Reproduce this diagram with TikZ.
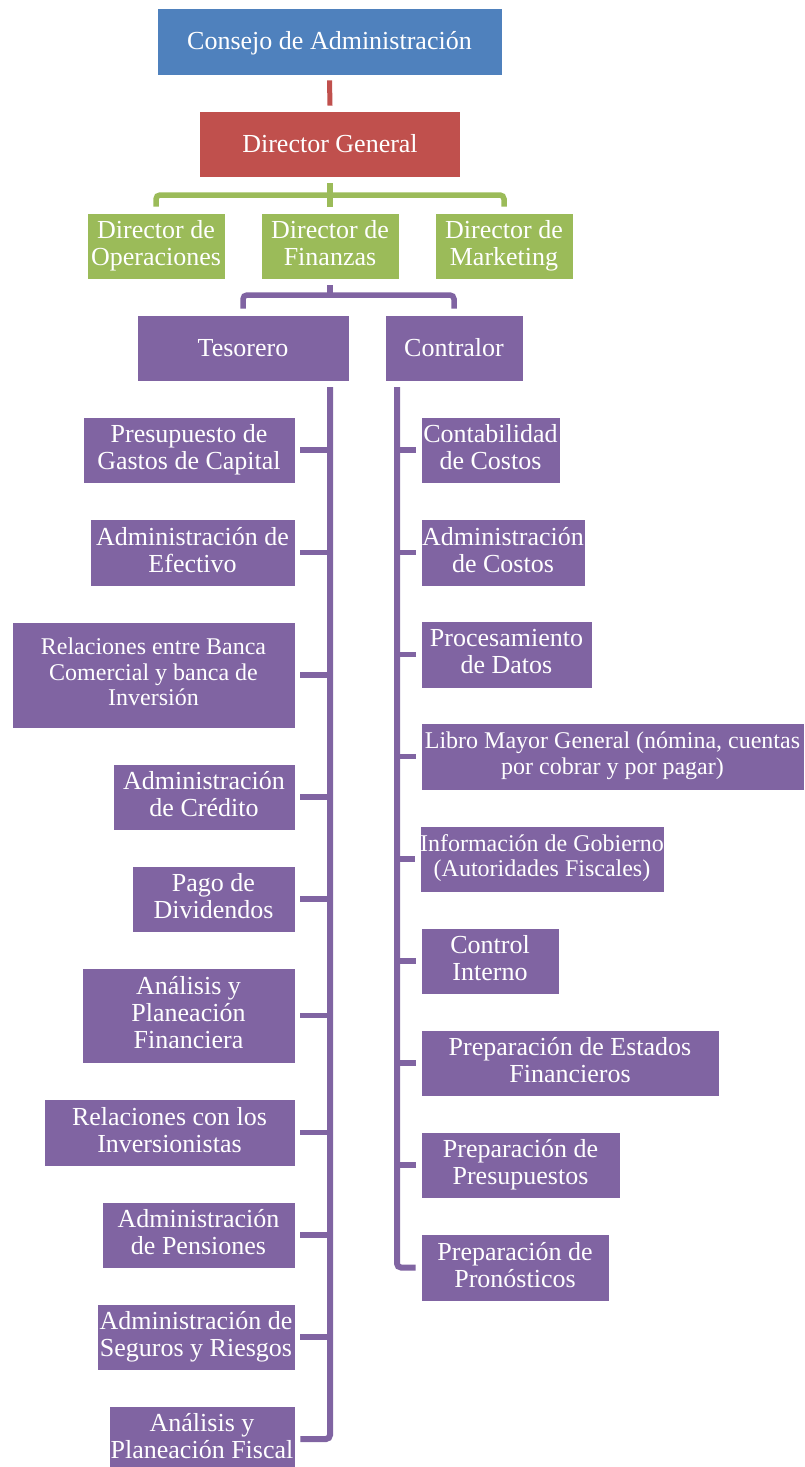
\documentclass[tikz,border=0pt]{standalone}
\usepackage{fontspec}
\setmainfont{Liberation Serif}
\definecolor{cblue}{HTML}{4F81BD}
\definecolor{cred}{HTML}{C0504D}
\definecolor{cgreen}{HTML}{9BBB59}
\definecolor{cpurple}{HTML}{8064A2}
% invisible struts so every line box has the same height and depth
\newcommand\bigstrut{\rule[-5.5pt]{0pt}{27pt}}
\newcommand\smallstrut{\rule[-6.5pt]{0pt}{25.5pt}}
\tikzset{
  box/.style={rectangle, draw=white, line width=0.8pt, text=white, align=center,
              inner sep=0pt, font=\fontsize{26}{27}\selectfont,
              execute at begin node=\bigstrut, execute at end node=\bigstrut},
  small/.style={font=\fontsize{24}{25.5}\selectfont,
              execute at begin node=\smallstrut, execute at end node=\smallstrut},
  bluebox/.style={box, fill=cblue},
  redbox/.style={box, fill=cred},
  greenbox/.style={box, fill=cgreen},
  purplebox/.style={box, fill=cpurple},
  conn/.style={line width=5.5pt, rounded corners=4pt},
  trunk/.style={conn, cpurple, line width=6pt}
}
\begin{document}
\begin{tikzpicture}[x=1pt, y=-1pt]
\useasboundingbox (0,0) rectangle (804,1467);
\clip (0,0) rectangle (804,1467);

% top levels
\node[bluebox, minimum width=345pt, minimum height=67pt] (C) at (329.5,41.5) {Consejo de Administración};
\node[redbox, minimum width=261pt, minimum height=66pt] (DG) at (330,144) {Director General};
\node[greenbox, minimum width=138pt, minimum height=66pt] (DO) at (156,246) {Director de\\Operaciones};
\node[greenbox, minimum width=138pt, minimum height=66pt] (DF) at (330,246) {Director de\\Finanzas};
\node[greenbox, minimum width=138pt, minimum height=66pt] (DM) at (504,246) {Director de\\Marketing};
\node[purplebox, minimum width=212pt, minimum height=66pt] (T) at (243,348) {Tesorero};
\node[purplebox, minimum width=138pt, minimum height=66pt] (K) at (454,348) {Contralor};

% treasurer branch
\node[purplebox, minimum width=212pt, minimum height=66pt] (L1) at (189,450) {Presupuesto de\\Gastos de Capital};
\node[purplebox, minimum width=205pt, minimum height=67pt] (L2) at (192.5,552.5) {Administración de\\Efectivo};
\node[purplebox, small, minimum width=283pt, minimum height=106pt] (L3) at (153.5,675) {Relaciones entre Banca\\Comercial y banca de\\Inversión};
\node[purplebox, minimum width=182pt, minimum height=66pt] (L4) at (204,797) {Administración\\de Crédito};
\node[purplebox, minimum width=163pt, minimum height=66pt] (L5) at (213.5,899) {Pago de\\Dividendos};
\node[purplebox, minimum width=213pt, minimum height=95pt] (L6) at (188.5,1015.5) {Análisis y\\Planeación\\Financiera};
\node[purplebox, minimum width=251pt, minimum height=67pt] (L7) at (169.5,1132.5) {Relaciones con los\\Inversionistas};
\node[purplebox, minimum width=193pt, minimum height=66pt] (L8) at (198.5,1235) {Administración\\de Pensiones};
\node[purplebox, minimum width=198pt, minimum height=66pt] (L9) at (196,1337) {Administración de\\Seguros y Riesgos};
\node[purplebox, minimum width=186pt, minimum height=66pt] (L10) at (202,1439) {Análisis y\\Planeación Fiscal};

% controller branch
\node[purplebox, minimum width=139pt, minimum height=66pt] (R1) at (490.5,450) {Contabilidad\\de Costos};
\node[purplebox, minimum width=164pt, minimum height=67pt] (R2) at (503,552.5) {Administración\\de Costos};
\node[purplebox, minimum width=171pt, minimum height=67pt] (R3) at (506.5,654.5) {Procesamiento\\de Datos};
\node[purplebox, small, minimum width=383pt, minimum height=67pt] (R4) at (612.5,756.5) {Libro Mayor General (nómina, cuentas\\por cobrar y por pagar)};
\node[purplebox, small, minimum width=242pt, minimum height=66pt] (R5) at (542,859) {Información de Gobierno\\(Autoridades Fiscales)};
\node[purplebox, minimum width=138pt, minimum height=66pt] (R6) at (490,961) {Control\\Interno};
\node[purplebox, minimum width=298pt, minimum height=66pt] (R7) at (570,1063) {Preparación de Estados\\Financieros};
\node[purplebox, minimum width=199pt, minimum height=66pt] (R8) at (520.5,1165) {Preparación de\\Presupuestos};
\node[purplebox, minimum width=188pt, minimum height=67pt] (R9) at (515,1267.5) {Preparación de\\Pronósticos};

% connectors
\draw[conn, cred, line width=5pt] ([yshift=-5pt]C.south) -- ([yshift=5pt]DG.north);

\coordinate (gj) at (330,195);
\draw[conn, cgreen] ([yshift=-6pt]DG.south) -- (gj) -- ([yshift=6pt]DF.north);
\draw[conn, cgreen] ([yshift=6pt]DO.north) |- (gj) -| ([yshift=6pt]DM.north);

\coordinate (pj) at (330,295);
\draw[conn, cpurple] ([yshift=-6pt]DF.south) -- (pj);
\draw[conn, cpurple] ([yshift=6pt]T.north) |- (pj) -| ([yshift=6pt]K.north);

\coordinate (tT) at (330,387);
\draw[trunk] (tT) |- ([xshift=5pt]L10.east);
\foreach \n in {L1,L2,L3,L4,L5,L6,L7,L8,L9}
  \draw[conn, cpurple] ([xshift=5pt]\n.east) -- (tT |- \n.east);

\coordinate (kT) at (397,387);
\draw[trunk] (kT) |- ([xshift=-5pt]R9.west);
\foreach \n in {R1,R2,R3,R4,R5,R6,R7,R8}
  \draw[conn, cpurple] ([xshift=-5pt]\n.west) -- (kT |- \n.west);
\end{tikzpicture}
\end{document}
